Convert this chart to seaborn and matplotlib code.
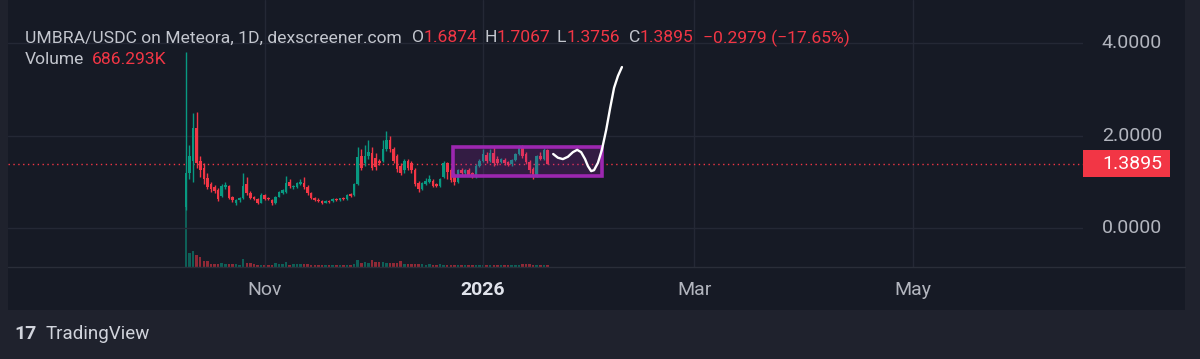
import pandas as pd
import numpy as np
import matplotlib
matplotlib.use("Agg")
import matplotlib.pyplot as plt
import matplotlib.dates as mdates
from matplotlib.patches import Rectangle
from matplotlib.lines import Line2D
import seaborn as sns

# daily candles, UMBRA/USDC, from 2025-10-10
first_day = "2025-10-10"
open_ = [0.45, 1.20, 1.45, 2.16, 1.45, 1.30, 1.08, 0.95, 0.88, 0.82,
         0.70, 0.88, 0.90, 0.66, 0.55, 0.60, 0.65, 0.95, 0.76, 0.66,
         0.62, 0.55, 0.72, 0.65, 0.61, 0.55, 0.68, 0.76, 0.78, 1.00,
         0.88, 0.88, 0.95, 0.98, 0.88, 0.75, 0.65, 0.61, 0.58, 0.55,
         0.58, 0.58, 0.62, 0.61, 0.64, 0.62, 0.74, 0.72, 0.96, 1.55,
         1.40, 1.55, 1.62, 1.52, 1.45, 1.45, 1.70, 1.90, 1.70, 1.55,
         1.35, 1.25, 1.45, 1.40, 1.25, 0.97, 0.85, 0.95, 1.00, 1.02,
         0.95, 0.90, 1.10, 1.40, 1.25, 1.15, 1.00, 1.25, 1.18, 1.25,
         1.18, 1.10, 1.35, 1.45, 1.58, 1.45, 1.62, 1.50, 1.42, 1.48,
         1.42, 1.38, 1.48, 1.60, 1.72, 1.60, 1.42, 1.28, 1.12, 1.55,
         1.50, 1.6874]
high = [3.80, 1.80, 2.48, 2.50, 1.55, 1.40, 1.20, 1.00, 0.92, 0.86,
        0.95, 1.00, 0.94, 0.70, 0.63, 0.68, 1.20, 1.10, 0.80, 0.70,
        0.64, 0.75, 0.74, 0.68, 0.63, 0.70, 0.80, 0.84, 1.12, 1.05,
        0.94, 1.00, 1.05, 1.10, 0.92, 0.78, 0.68, 0.64, 0.60, 0.60,
        0.60, 0.64, 0.64, 0.65, 0.66, 0.74, 0.76, 0.98, 1.75, 1.70,
        1.80, 1.90, 1.75, 1.62, 1.50, 1.90, 2.10, 2.00, 1.75, 1.60,
        1.40, 1.50, 1.50, 1.45, 1.30, 1.02, 1.00, 1.08, 1.15, 1.05,
        0.98, 1.08, 1.45, 1.42, 1.30, 1.18, 1.28, 1.30, 1.28, 1.30,
        1.22, 1.38, 1.50, 1.70, 1.65, 1.70, 1.75, 1.55, 1.52, 1.52,
        1.45, 1.50, 1.62, 1.80, 1.80, 1.65, 1.46, 1.32, 1.58, 1.65,
        1.72, 1.7067]
low = [0.40, 1.05, 1.00, 1.30, 1.10, 0.95, 0.85, 0.78, 0.76, 0.58,
       0.66, 0.84, 0.62, 0.57, 0.50, 0.57, 0.62, 0.72, 0.62, 0.60,
       0.52, 0.53, 0.61, 0.60, 0.50, 0.52, 0.66, 0.74, 0.76, 0.86,
       0.85, 0.86, 0.93, 0.85, 0.72, 0.62, 0.58, 0.56, 0.52, 0.53,
       0.54, 0.56, 0.59, 0.59, 0.61, 0.60, 0.68, 0.70, 0.94, 1.25,
       1.35, 1.50, 1.25, 1.25, 1.36, 1.42, 1.66, 1.65, 1.40, 1.22,
       1.15, 1.20, 1.25, 1.20, 0.90, 0.78, 0.82, 0.92, 0.97, 0.88,
       0.88, 0.88, 1.08, 1.05, 1.00, 0.93, 0.98, 1.15, 1.15, 1.12,
       1.08, 1.08, 1.32, 1.42, 1.40, 1.42, 1.35, 1.36, 1.40, 1.37,
       1.33, 1.35, 1.45, 1.58, 1.52, 1.38, 1.20, 1.05, 1.10, 1.46,
       1.48, 1.3756]
close = [1.20, 1.55, 2.16, 1.40, 1.25, 1.05, 0.88, 0.85, 0.80, 0.62,
         0.90, 0.93, 0.65, 0.60, 0.60, 0.65, 0.90, 0.75, 0.65, 0.62,
         0.55, 0.72, 0.63, 0.62, 0.53, 0.68, 0.78, 0.82, 0.98, 0.90,
         0.90, 0.97, 1.00, 0.88, 0.75, 0.65, 0.60, 0.58, 0.55, 0.58,
         0.56, 0.63, 0.61, 0.64, 0.62, 0.72, 0.70, 0.96, 1.54, 1.30,
         1.55, 1.65, 1.30, 1.32, 1.40, 1.70, 1.90, 1.70, 1.45, 1.27,
         1.20, 1.45, 1.30, 1.25, 0.95, 0.85, 0.97, 1.02, 1.05, 0.90,
         0.90, 1.05, 1.40, 1.22, 1.04, 1.00, 1.25, 1.18, 1.25, 1.15,
         1.10, 1.35, 1.45, 1.60, 1.45, 1.62, 1.40, 1.40, 1.50, 1.40,
         1.37, 1.48, 1.60, 1.75, 1.55, 1.42, 1.25, 1.11, 1.55, 1.50,
         1.68, 1.3895]
volume_k = [28000, 4900, 5600, 4200, 3500, 2100, 2100, 1150, 1150, 1150,
            1400, 950, 950, 950, 950, 800, 2700, 1500, 1500, 950,
            870, 870, 870, 800, 800, 1400, 1050, 1150, 1850, 870,
            950, 950, 1050, 1050, 950, 870, 800, 800, 780, 820,
            760, 800, 790, 810, 780, 800, 850, 950, 2350, 1400,
            1650, 1400, 2350, 1750, 1750, 1750, 1400, 1400, 1400, 1400,
            2000, 1000, 1100, 900, 1200, 950, 1000, 850, 900, 800,
            850, 900, 800, 750, 850, 800, 780, 760, 800, 820,
            750, 780, 800, 850, 760, 800, 780, 750, 800, 760,
            780, 760, 800, 850, 1000, 1050, 900, 800, 760, 780,
            720, 686.293]

# drawing overlay: range box and projected path (days after 2026-01-01, price)
box_days = [-8.5, 33.2]
box_prices = [1.13, 1.745]
path_days = [19.6, 20.9, 22.3, 23.7, 25.1, 26.3, 27.4, 28.5, 29.3, 30.2,
             31.0, 32.1, 33.2, 34.4, 35.5, 36.6, 37.7, 38.8]
path_prices = [1.60, 1.52, 1.49, 1.54, 1.64, 1.69, 1.64, 1.49, 1.34, 1.23,
               1.25, 1.41, 1.69, 2.12, 2.59, 3.03, 3.29, 3.48]

last_price = 1.3895
price_ticks = [0.0, 2.0, 4.0]
time_ticks = ["2025-11-01", "2026-01-01", "2026-03-01", "2026-05-01"]
time_labels = ["Nov", "2026", "Mar", "May"]

UP = "#089981"
DOWN = "#f23645"
PANEL = "#161a25"
FRAME = "#1f222d"
GRID = "#242835"
TXT = "#b2b5be"

sns.set_theme(style="dark")
plt.rcParams["font.family"] = ["Roboto", "DejaVu Sans"]

df = pd.DataFrame({"open": open_, "high": high, "low": low,
                   "close": close, "volume": volume_k})
df["date"] = pd.date_range(first_day, periods=len(df), freq="D")
df["up"] = df["close"] >= df["open"]
df["color"] = np.where(df["up"], UP, DOWN)

W, H = 1200, 359
fig = plt.figure(figsize=(W / 100, H / 100), dpi=100, facecolor=FRAME)
fig.add_artist(Rectangle((8 / W, 1 - 310 / H), (1185 - 8) / W, 310 / H,
                         transform=fig.transFigure, fc=PANEL, ec="none", zorder=0))

axv = fig.add_axes([8 / W, 1 - 267 / H, 1075 / W, 267 / H])
ax = axv.twinx()
axv.set_facecolor(PANEL)
ax.patch.set_visible(False)

jan1 = pd.Timestamp("2026-01-01")
x0 = mdates.date2num(jan1)
ax.set_xlim(x0 - 132.7, x0 + 167.6)
ax.set_ylim(-0.843, 4.93)
axv.set_ylim(0, 267 * 350)

# volume
vc = [UP if u else DOWN for u in df["up"]]
axv.bar(df["date"], df["volume"], width=0.7, color=vc, alpha=0.55, linewidth=0)

# grid
for v in price_ticks:
    ax.axhline(v, color=GRID, lw=1, zorder=0)
for t in time_ticks:
    ax.axvline(pd.Timestamp(t), color=GRID, lw=1, zorder=0)

# candles
ax.vlines(df["date"], df["low"], df["high"], colors=df["color"], lw=1, zorder=3)
body_lo = df[["open", "close"]].min(axis=1)
body_h = (df["open"] - df["close"]).abs().clip(lower=0.02)
ax.bar(df["date"], body_h, bottom=body_lo, width=0.72, color=df["color"],
       linewidth=0, zorder=4)

# last price line
ax.axhline(last_price, color=DOWN, lw=1, ls=(0, (1, 2.5)), zorder=2)

# range box
bx0 = mdates.date2num(jan1 + pd.Timedelta(days=box_days[0]))
bx1 = mdates.date2num(jan1 + pd.Timedelta(days=box_days[1]))
ax.add_patch(Rectangle((bx0, box_prices[0]), bx1 - bx0, box_prices[1] - box_prices[0],
                       fc=(0.61, 0.15, 0.69, 0.22), ec="#9c27b0", lw=2.6, zorder=5))

# projected path
path = pd.DataFrame({"date": [jan1 + pd.Timedelta(days=d) for d in path_days],
                     "price": path_prices})
sns.lineplot(data=path, x="date", y="price", ax=ax, color="white", lw=1.7,
             sort=False, zorder=6)

for a in (ax, axv):
    a.set_xticks([])
    a.set_yticks([])
    a.set_xlabel("")
    a.set_ylabel("")
    for s in a.spines.values():
        s.set_visible(False)

# price scale
ytr = ax.get_yaxis_transform()
for v in price_ticks:
    ax.text(1.0735, v, f"{v:.4f}", transform=ytr, ha="right", va="center",
            color=TXT, fontsize=14)
ax.add_patch(Rectangle((1.0, last_price - 0.29), 0.081, 0.58, transform=ytr,
                       fc=DOWN, ec="none", clip_on=False, zorder=7))
ax.text(1.0735, last_price, f"{last_price:.4f}", transform=ytr, ha="right",
        va="center", color="white", fontsize=14, zorder=8)

# time scale
xtr = ax.get_xaxis_transform()
for t, lab in zip(time_ticks, time_labels):
    bold = lab.isdigit()
    ax.text(pd.Timestamp(t), -0.086, lab, transform=xtr, ha="center", va="center",
            color="#e0e3eb" if bold else TXT, fontsize=14,
            fontweight="bold" if bold else "normal", clip_on=False)
fig.add_artist(Line2D([8 / W, 1185 / W], [1 - 267 / H] * 2, transform=fig.transFigure,
                      color="#2a2e39", lw=1))

# legend header
def put(x, y, s, c, **kw):
    fig.text(x / W, 1 - y / H, s, color=c, fontsize=12.6, va="center", **kw)

put(25, 38, "UMBRA/USDC on Meteora, 1D, dexscreener.com", "#c3c6ce")
for lx, lab, vx, val in [(412, "O", 424, "1.6874"), (485, "H", 497, "1.7067"),
                         (557, "L", 567, "1.3756"), (629, "C", 640, "1.3895")]:
    put(lx, 38, lab, "#c3c6ce")
    put(vx, 38, val, DOWN)
put(703, 38, "\u22120.2979 (\u221217.65%)", DOWN)
put(25, 60, "Volume", "#c3c6ce")
put(92, 60, "686.293K", DOWN)

fig.text(14 / W, 1 - 334 / H, "17", color="#d1d4dc", fontsize=14,
         fontweight="bold", va="center")
fig.text(46 / W, 1 - 334 / H, "TradingView", color="#d1d4dc", fontsize=13.5,
         va="center")

fig.savefig("out.png", dpi=100, facecolor=FRAME)
